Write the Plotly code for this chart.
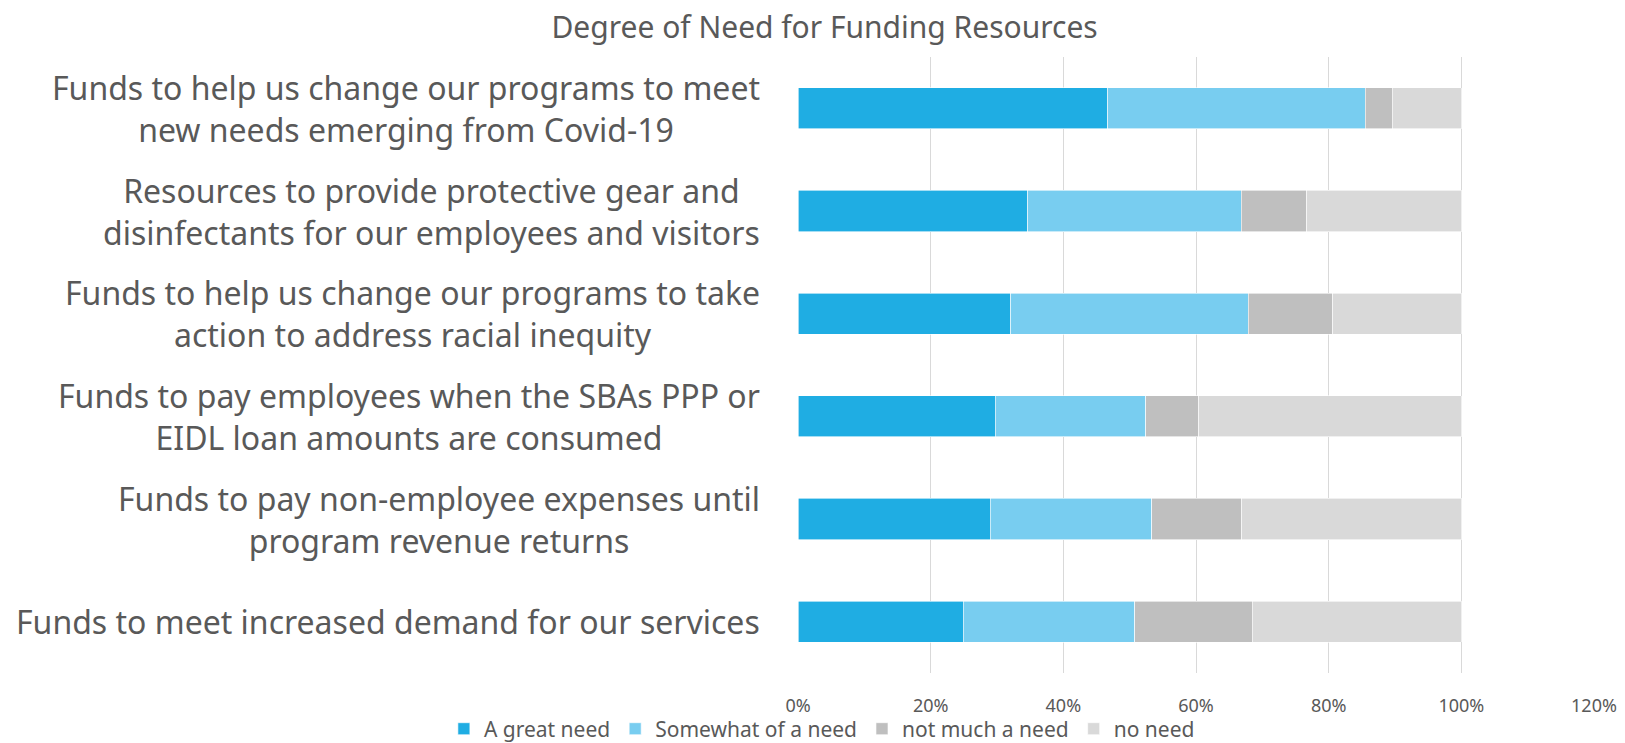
import plotly.graph_objects as go

# categories, top to bottom as drawn
categories = [
    'Funds to help us change our programs to meet<br>new needs emerging from Covid-19',
    'Resources to provide protective gear and<br>disinfectants for our employees and visitors',
    'Funds to help us change our programs to take<br>action to address racial inequity',
    'Funds to pay employees when the SBAs PPP or<br>EIDL loan amounts are consumed',
    'Funds to pay non-employee expenses until<br>program revenue returns',
    'Funds to meet increased demand for our services',
]

great_need = [0.467, 0.346, 0.321, 0.297, 0.290, 0.249]
somewhat_need = [0.388, 0.322, 0.358, 0.227, 0.243, 0.259]
not_much_need = [0.041, 0.099, 0.127, 0.080, 0.136, 0.177]
no_need = [0.104, 0.233, 0.194, 0.396, 0.331, 0.315]

series = [
    ('A great need', great_need, '#1FADE3'),
    ('Somewhat of a need', somewhat_need, '#78CDF0'),
    ('not much a need', not_much_need, '#BFBFBF'),
    ('no need', no_need, '#D9D9D9'),
]

txt = '#595959'
font = 'Noto Sans'

fig = go.Figure()
for name, vals, col in series:
    fig.add_trace(go.Bar(
        y=categories, x=vals, name=name, orientation='h',
        marker=dict(color=col, line=dict(color='white', width=0.6)),
    ))

# category labels as centred annotations (Excel style)
for c in categories:
    fig.add_annotation(
        x=-0.045, xref='paper', y=c, yref='y', text=c, showarrow=False,
        xanchor='right', align='center',
        font=dict(family=font, size=32, color=txt),
    )

# page body has an 8px margin, so the figure is laid out 8px smaller
fig.update_layout(
    width=1617, height=735,
    barmode='stack', bargap=0.6,
    plot_bgcolor='white', paper_bgcolor='white',
    margin=dict(l=790, r=31, t=49, b=70, autoexpand=False),
    title=dict(text='Degree of Need for Funding Resources', x=0.505, xanchor='center',
               y=1 - 19 / 735, yanchor='middle', yref='container',
               font=dict(family=font, size=30, color=txt)),
    legend=dict(orientation='h', xref='paper', x=0.03, xanchor='center',
                yref='paper', y=-0.091, yanchor='middle', bgcolor='rgba(0,0,0,0)',
                font=dict(family=font, size=21, color=txt), traceorder='normal'),
    xaxis=dict(range=[0, 1.2], dtick=0.2, tickformat='.0%', showgrid=True,
               gridcolor='#D9D9D9', gridwidth=1.3, zeroline=False,
               tickfont=dict(family=font, size=18, color=txt), ticklabelstandoff=20),
    yaxis=dict(autorange='reversed', showticklabels=False, showgrid=False, zeroline=False),
)

fig.write_html('out.html')
